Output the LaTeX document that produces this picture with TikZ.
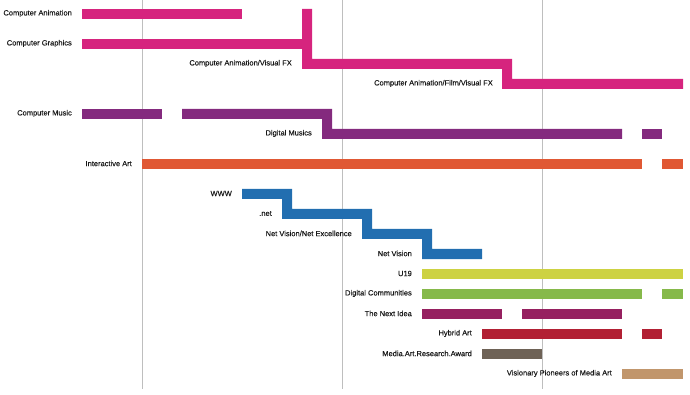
\documentclass[tikz,border=0pt]{standalone}
\usepackage{fontspec}
\setmainfont{Liberation Sans}
\newfontfamily\lblfont[FakeBold=0.25]{Liberation Sans}
\definecolor{gridgray}{RGB}{190,190,190}
\definecolor{labelgray}{RGB}{25,25,25}
\definecolor{cmagenta}{RGB}{214,36,126}
\definecolor{cpurple}{RGB}{132,42,126}
\definecolor{corange}{RGB}{224,88,52}
\definecolor{cblue}{RGB}{34,110,176}
\definecolor{cyellow}{RGB}{205,210,66}
\definecolor{cgreen}{RGB}{134,185,74}
\definecolor{cplum}{RGB}{150,32,96}
\definecolor{cred}{RGB}{178,32,52}
\definecolor{cbrown}{RGB}{110,98,86}
\definecolor{ctan}{RGB}{193,150,108}
\begin{document}
\begin{tikzpicture}[x=1pt,y=-1pt,
  lbl/.style={anchor=east,inner sep=0pt,font=\lblfont\fontsize{7.5}{9}\selectfont,text=labelgray},
  gridline/.style={draw=gridgray,line width=1pt}]
\useasboundingbox (0,0) rectangle (690,395);
% grid lines
\foreach \x in {142,342,542} \draw[gridline] (\x,0) -- (\x,389);
% magenta
\fill[cmagenta] (82,9) rectangle (242,19);
\fill[cmagenta] (82,39) rectangle (303,49);
\fill[cmagenta] (302,9) -- (312,9) -- (312,59) -- (512,59) -- (512,79) -- (683,79)
  -- (683,89) -- (502,89) -- (502,69) -- (302,69) -- cycle;
% purple
\fill[cpurple] (82,109) rectangle (162,119);
\fill[cpurple] (182,109) -- (332,109) -- (332,129) -- (622,129) -- (622,139)
  -- (322,139) -- (322,119) -- (182,119) -- cycle;
\fill[cpurple] (642,129) rectangle (662,139);
% orange
\fill[corange] (142,159) rectangle (642,169);
\fill[corange] (662,159) rectangle (683,169);
% blue
\fill[cblue] (242,189) -- (292,189) -- (292,209) -- (372,209) -- (372,229) -- (432,229)
  -- (432,249) -- (482,249) -- (482,259) -- (422,259) -- (422,239) -- (362,239)
  -- (362,219) -- (282,219) -- (282,199) -- (242,199) -- cycle;
% others
\fill[cyellow] (422,269) rectangle (683,279);
\fill[cgreen] (422,289) rectangle (642,299);
\fill[cgreen] (662,289) rectangle (683,299);
\fill[cplum] (422,309) rectangle (502,319);
\fill[cplum] (522,309) rectangle (622,319);
\fill[cred] (482,329) rectangle (622,339);
\fill[cred] (642,329) rectangle (662,339);
\fill[cbrown] (482,349) rectangle (542,359);
\fill[ctan] (622,369) rectangle (683,379);
% labels
\node[lbl] (ca) at (72,13.5) {Computer Animation};
\node[lbl] (cg) at (72,43.5) {Computer Graphics};
\node[lbl] (cavfx) at (292,63.5) {Computer Animation/Visual FX};
\node[lbl] (cafvfx) at (493,83.5) {Computer Animation/Film/Visual FX};
\node[lbl] (cm) at (72,113.5) {Computer Music};
\node[lbl] (dm) at (312,133.5) {Digital Musics};
\node[lbl] (ia) at (132,163.5) {Interactive Art};
\node[lbl] (www) at (232,193.5) {WWW};
\node[lbl] (net) at (272,213.5) {.net};
\node[lbl] (nvne) at (352,233.5) {Net Vision/Net Excellence};
\node[lbl] (nv) at (412,253.5) {Net Vision};
\node[lbl] (u19) at (412,273.5) {U19};
\node[lbl] (dc) at (412,293.5) {Digital Communities};
\node[lbl] (ni) at (412,313.5) {The Next Idea};
\node[lbl] (ha) at (472,333.5) {Hybrid Art};
\node[lbl] (mara) at (472,353.5) {Media.Art.Research.Award};
\node[lbl] (vp) at (612,373.5) {Visionary Pioneers of Media Art};
\end{tikzpicture}
\end{document}
